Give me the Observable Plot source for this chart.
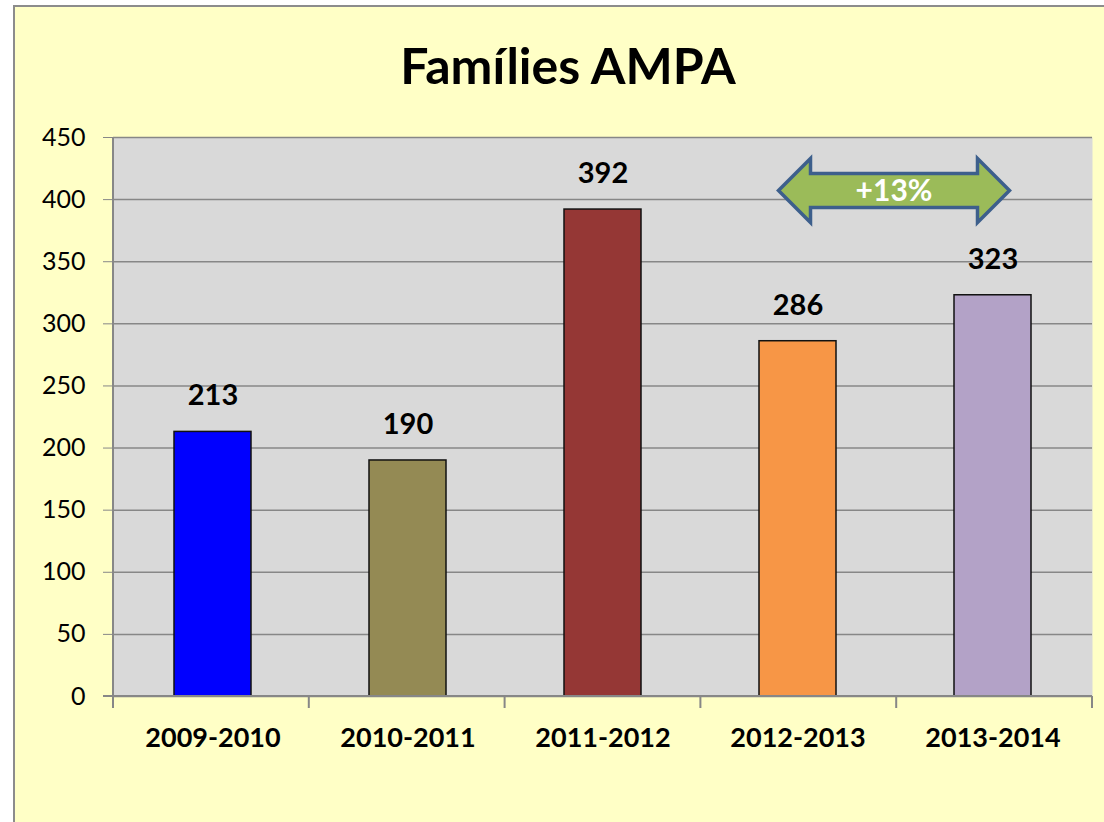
<!DOCTYPE html>
<html><head><meta charset="utf-8">
<script src="https://cdn.jsdelivr.net/npm/d3@7"></script>
<script src="https://cdn.jsdelivr.net/npm/@observablehq/plot@0.6"></script>
<style>
html,body{margin:0;padding:0;background:#fff;overflow:hidden;}
#bg{position:absolute;left:13px;top:5px;width:1200px;height:900px;border:2px solid #8c8c8c;background:#FFFFC6;box-sizing:border-box}
#chart{position:absolute;left:0;top:0}
</style></head><body><div id="bg"></div><div id="chart"></div>
<script>
const title = "Famílies AMPA";
const seasons = ["2009-2010", "2010-2011", "2011-2012", "2012-2013", "2013-2014"];
const families = [213, 190, 392, 286, 323];
const barColors = ["#0000FF", "#948A54", "#953735", "#F79646", "#B3A2C7"];
const yTicks = [0, 50, 100, 150, 200, 250, 300, 350, 400, 450];
const arrowFrom = "2012-2013";
const arrowTo = "2013-2014";
const arrowValue = 407;
const arrowLabel = "+13%";

const data = seasons.map((s, i) => ({season: s, value: families[i], color: barColors[i]}));
const font = "Lato, 'Open Sans', sans-serif";

const plot = Plot.plot({
  width: 1104, height: 822,
  marginLeft: 113, marginRight: 12, marginTop: 137, marginBottom: 126,
  style: {background: "transparent", fontFamily: font, color: "#000", overflow: "visible"},
  x: {type: "band", domain: seasons, paddingInner: 0.607, paddingOuter: 0.3035, label: null},
  y: {domain: [0, 450], label: null},
  marks: [
    Plot.frame({fill: "#D9D9D9", stroke: null}),
    Plot.gridY(yTicks, {stroke: "#878787", strokeOpacity: 1, strokeWidth: 1.5}),
    Plot.barY(data, {x: "season", y: "value", fill: "color", stroke: "#111", strokeWidth: 1.5}),
    Plot.text(data, {x: "season", y: "value", text: d => String(d.value), dy: -36, fontSize: 29, fontWeight: "bold", fill: "#000"}),
    Plot.axisY({ticks: yTicks, tickSize: 10, tickPadding: 18, fontSize: 25, stroke: "#878787", fill: "#000", label: null}),
    Plot.axisX({tickSize: 0, tickPadding: 31, fontSize: 27, fontWeight: "bold", fill: "#000", label: null}),
    Plot.text([title], {frameAnchor: "top", lineAnchor: "middle", dx: -35, dy: -70, fontSize: 50, fontWeight: "bold", fill: "#000"})
  ]
});
document.getElementById("chart").appendChild(plot);

const sx = plot.scale("x"), sy = plot.scale("y");
const bw = sx.bandwidth;
const [r0, r1] = sx.range;
const step = (r1 - r0) / seasons.length;
const cx = s => sx.apply(s) + bw / 2;
const svg = d3.select(plot);
const g = svg.append("g").attr("stroke", "#878787").attr("stroke-width", 2);
const y0 = sy.apply(0), yTop = sy.apply(450);
g.append("line").attr("x1", r0).attr("x2", r0).attr("y1", yTop).attr("y2", y0);
g.append("line").attr("x1", r0 - 10).attr("x2", r1).attr("y1", y0).attr("y2", y0);
d3.range(seasons.length + 1).forEach(i => {
  const x = r0 + i * step;
  g.append("line").attr("x1", x).attr("x2", x).attr("y1", y0).attr("y2", y0 + 12);
});

// double-headed arrow annotation
const ay = sy.apply(arrowValue);
const xl = cx(arrowFrom) - 19, xr = cx(arrowTo) + 17;
const hl = 32, hh = 32, bh = 17;
const pts = [[xl, ay], [xl + hl, ay - hh], [xl + hl, ay - bh], [xr - hl, ay - bh], [xr - hl, ay - hh],
  [xr, ay], [xr - hl, ay + hh], [xr - hl, ay + bh], [xl + hl, ay + bh], [xl + hl, ay + hh]];
svg.append("polygon").attr("points", pts.map(p => p.join(",")).join(" "))
  .attr("fill", "#9BBB59").attr("stroke", "#3D5F8C").attr("stroke-width", 3.5).attr("stroke-linejoin", "miter");
svg.append("text").attr("x", (xl + xr) / 2).attr("y", ay).attr("dy", "0.35em")
  .attr("text-anchor", "middle").attr("fill", "#fff").attr("font-weight", "bold")
  .attr("font-size", 30).attr("font-family", font).text(arrowLabel);
</script></body></html>
